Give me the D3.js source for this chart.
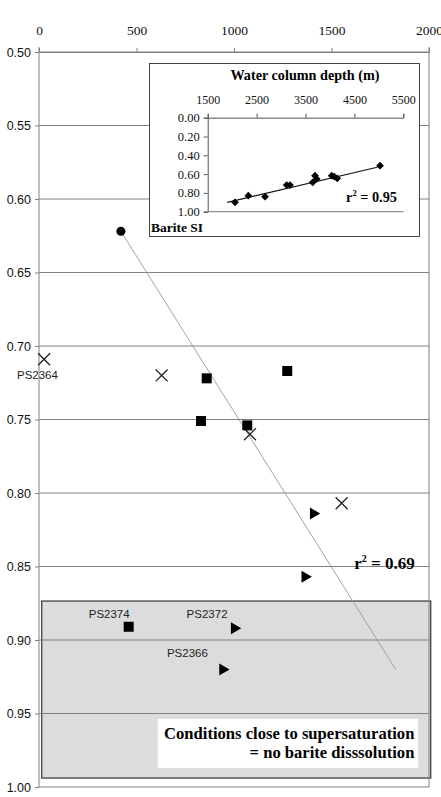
<!DOCTYPE html>
<html>
<head>
<meta charset="utf-8">
<script src="https://cdn.jsdelivr.net/npm/d3@7"></script>
<style>
  body { margin: 0; background: #fff; }
  svg { display: block; }
</style>
</head>
<body>
<svg id="chart" width="441" height="797"></svg>
<script>
// main plot: x = ?, y = Barite SI
const xTicks = [0, 500, 1000, 1500, 2000];
const yTicks = [0.50, 0.55, 0.60, 0.65, 0.70, 0.75, 0.80, 0.85, 0.90, 0.95, 1.00];

const circleX = [420];
const circleY = [0.622];
const crossX = [26, 629, 1082, 1552];
const crossY = [0.709, 0.720, 0.760, 0.807];
const squareX = [860, 1273, 831, 1068, 460];
const squareY = [0.722, 0.717, 0.751, 0.754, 0.891];
const triX = [1407, 1364, 1002, 942];
const triY = [0.814, 0.857, 0.892, 0.920];

const regX = [420, 1829];
const regY = [0.622, 0.920];

const labelText = ["PS2364", "PS2374", "PS2372", "PS2366"];
const labelX = [-8, 360, 862, 761];
const labelY = [0.7224, 0.8847, 0.8847, 0.9119];

// shaded zone
const zoneX = [14, 2009];
const zoneY = [0.8735, 0.9939];

// inset
const insetXTicks = [1500, 2500, 3500, 4500, 5500];
const insetYTicks = [0.00, 0.20, 0.40, 0.60, 0.80, 1.00];
const depth = [2058, 2330, 2672, 3115, 3183, 3647, 3694, 3729, 4036, 4089, 4150, 5024];
const siInset = [0.90, 0.83, 0.84, 0.716, 0.716, 0.687, 0.617, 0.652, 0.617, 0.628, 0.645, 0.51];
const insetRegX = [1900, 4968];
const insetRegY = [0.90, 0.527];

const serif = "'Liberation Serif', 'Times New Roman', serif";
const sans = "'Liberation Sans', Arial, sans-serif";

const svg = d3.select("#chart");

const x = d3.scaleLinear().domain([0, 2000]).range([39, 429]);
const y = d3.scaleLinear().domain([0.5, 1.0]).range([52, 787]);

// grey zone
svg.append("rect")
  .attr("x", x(zoneX[0])).attr("y", y(zoneY[0]))
  .attr("width", x(zoneX[1]) - x(zoneX[0]))
  .attr("height", y(zoneY[1]) - y(zoneY[0]))
  .attr("fill", "#dcdcdc").attr("stroke", "#333").attr("stroke-width", 1.2);

// gridlines
svg.append("g").selectAll("line")
  .data(yTicks)
  .enter().append("line")
  .attr("x1", x(0)).attr("x2", x(2000))
  .attr("y1", d => y(d)).attr("y2", d => y(d))
  .attr("stroke", "#808080").attr("stroke-width", 1);

// right border
svg.append("line")
  .attr("x1", x(2000)).attr("x2", x(2000))
  .attr("y1", y(0.5) - 5).attr("y2", y(1.0))
  .attr("stroke", "#808080").attr("stroke-width", 1);

// top axis
const topAxis = svg.append("g")
  .attr("transform", `translate(0,${y(0.5)})`)
  .call(d3.axisTop(x).tickValues(xTicks).tickSize(4).tickPadding(13).tickFormat(d3.format("d")));
topAxis.select(".domain").attr("stroke", "#808080");
topAxis.selectAll(".tick line").attr("stroke", "#808080");
topAxis.selectAll("text").attr("font-family", serif).attr("font-size", "13.5px").attr("fill", "#111");

// left axis
const leftAxis = svg.append("g")
  .attr("transform", `translate(${x(0)},0)`)
  .call(d3.axisLeft(y).tickValues(yTicks).tickSize(4).tickPadding(4).tickFormat(d3.format(".2f")));
leftAxis.select(".domain").attr("stroke", "#808080").attr("d", `M0,${y(0.5) - 5}V${y(1.0)}`);
leftAxis.selectAll(".tick line").attr("stroke", "#808080");
leftAxis.selectAll("text").attr("font-family", sans).attr("font-size", "12.5px").attr("fill", "#111");

// note box
const note = svg.append("g");
note.append("rect")
  .attr("x", x(609)).attr("y", y(0.9537))
  .attr("width", x(1944) - x(609)).attr("height", y(0.987) - y(0.9537))
  .attr("fill", "#fff");
note.append("text")
  .attr("x", x(1925)).attr("y", 739)
  .attr("text-anchor", "end")
  .attr("font-family", serif).attr("font-weight", "bold").attr("font-size", "16.6px")
  .text("Conditions close to supersaturation");
note.append("text")
  .attr("x", x(1925)).attr("y", 758)
  .attr("text-anchor", "end")
  .attr("font-family", serif).attr("font-weight", "bold").attr("font-size", "16.6px")
  .text("= no barite disssolution");

// regression line
svg.append("line")
  .attr("x1", x(regX[0])).attr("y1", y(regY[0]))
  .attr("x2", x(regX[1])).attr("y2", y(regY[1]))
  .attr("stroke", "#999").attr("stroke-width", 0.9);

const r2 = svg.append("text")
  .attr("x", x(1927)).attr("y", 569)
  .attr("text-anchor", "end")
  .attr("font-family", serif).attr("font-weight", "bold").attr("font-size", "17px");
r2.append("tspan").text("r");
r2.append("tspan").attr("font-size", "10px").attr("dy", -7).text("2");
r2.append("tspan").attr("dy", 7).text(" = 0.69");

// markers
function pts(xs, ys) { return xs.map((v, i) => [v, ys[i]]); }

svg.append("g").selectAll("path")
  .data(pts(circleX, circleY)).enter().append("path")
  .attr("d", d3.symbol(d3.symbolCircle, 64))
  .attr("transform", d => `translate(${x(d[0])},${y(d[1])})`)
  .attr("fill", "#000");

svg.append("g").selectAll("path")
  .data(pts(crossX, crossY)).enter().append("path")
  .attr("d", d3.symbol(d3.symbolX, 95))
  .attr("transform", d => `translate(${x(d[0])},${y(d[1])})`)
  .attr("fill", "none").attr("stroke", "#222").attr("stroke-width", 1.3);

svg.append("g").selectAll("path")
  .data(pts(squareX, squareY)).enter().append("path")
  .attr("d", d3.symbol(d3.symbolSquare, 100))
  .attr("transform", d => `translate(${x(d[0])},${y(d[1])})`)
  .attr("fill", "#000");

svg.append("g").selectAll("path")
  .data(pts(triX, triY)).enter().append("path")
  .attr("d", d3.symbol(d3.symbolTriangle, 62))
  .attr("transform", d => `translate(${x(d[0])},${y(d[1])}) rotate(90)`)
  .attr("fill", "#000");

// station labels
svg.append("g").selectAll("text")
  .data(labelText).enter().append("text")
  .attr("x", (d, i) => x(labelX[i])).attr("y", (d, i) => y(labelY[i]))
  .attr("text-anchor", "middle")
  .attr("font-family", sans).attr("font-size", "11.5px").attr("fill", "#222")
  .text(d => d);

// ---- inset ----
const inset = svg.append("g");
inset.append("rect")
  .attr("x", 149.5).attr("y", 63.5).attr("width", 270).attr("height", 173)
  .attr("fill", "#fff").attr("stroke", "#444").attr("stroke-width", 1);

const xi = d3.scaleLinear().domain([1500, 5500]).range([207.7, 403.3]);
const yi = d3.scaleLinear().domain([0, 1]).range([117.7, 211.7]);

const iTop = inset.append("g")
  .attr("transform", `translate(0,${yi(0)})`)
  .call(d3.axisTop(xi).tickValues(insetXTicks).tickSize(4).tickPadding(10).tickFormat(d3.format("d")));
iTop.selectAll("text").attr("font-family", serif).attr("font-size", "12px").attr("fill", "#111");
iTop.selectAll("line, path").attr("stroke", "#555");

const iLeft = inset.append("g")
  .attr("transform", `translate(${xi(1500)},0)`)
  .call(d3.axisLeft(yi).tickValues(insetYTicks).tickSize(4).tickPadding(4).tickFormat(d3.format(".2f")));
iLeft.selectAll("text").attr("font-family", serif).attr("font-size", "12.5px").attr("fill", "#111");
iLeft.selectAll("line, path").attr("stroke", "#555");

inset.append("line")
  .attr("x1", xi(1500)).attr("x2", xi(5500))
  .attr("y1", yi(1)).attr("y2", yi(1))
  .attr("stroke", "#777");

inset.append("text")
  .attr("x", 305).attr("y", 80)
  .attr("text-anchor", "middle")
  .attr("font-family", serif).attr("font-weight", "bold").attr("font-size", "14.2px")
  .text("Water column depth (m)");

inset.append("text")
  .attr("x", 151).attr("y", 232)
  .attr("font-family", serif).attr("font-weight", "bold").attr("font-size", "13.5px")
  .text("Barite SI");

inset.append("line")
  .attr("x1", xi(insetRegX[0])).attr("y1", yi(insetRegY[0]))
  .attr("x2", xi(insetRegX[1])).attr("y2", yi(insetRegY[1]))
  .attr("stroke", "#111").attr("stroke-width", 1.2);

inset.append("g").selectAll("path")
  .data(pts(depth, siInset)).enter().append("path")
  .attr("d", d3.symbol(d3.symbolSquare, 30))
  .attr("transform", d => `translate(${xi(d[0])},${yi(d[1])}) rotate(45)`)
  .attr("fill", "#000");

const r2i = inset.append("text")
  .attr("x", 397).attr("y", 202)
  .attr("text-anchor", "end")
  .attr("font-family", serif).attr("font-weight", "bold").attr("font-size", "14.3px");
r2i.append("tspan").text("r");
r2i.append("tspan").attr("font-size", "8.5px").attr("dy", -6).text("2");
r2i.append("tspan").attr("dy", 6).text(" = 0.95");
</script>
</body>
</html>
